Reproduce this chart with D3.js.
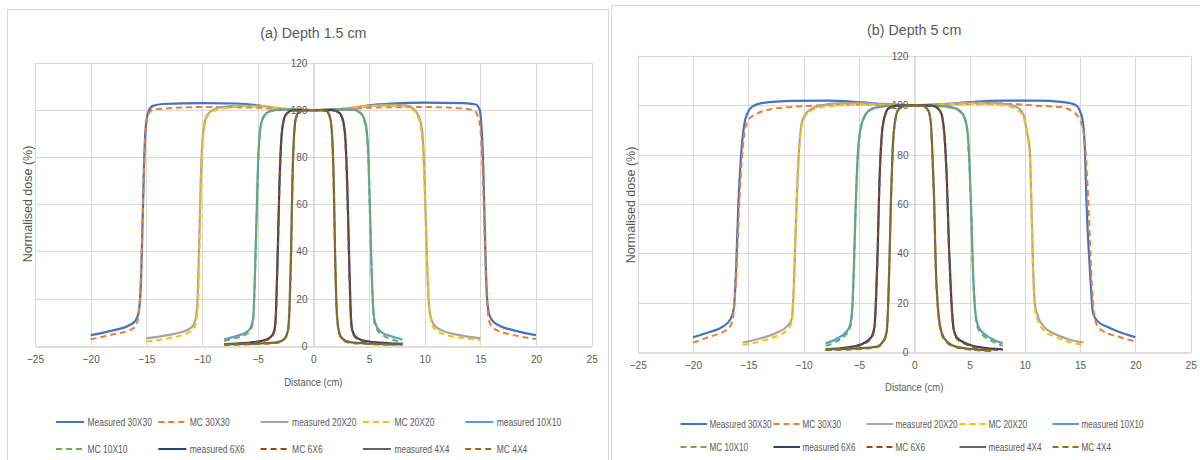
<!DOCTYPE html>
<html><head><meta charset="utf-8">
<script src="https://cdn.jsdelivr.net/npm/d3@7"></script>
<style>
html,body{margin:0;padding:0;background:#fff;}
svg{display:block;}
text{font-family:"Liberation Sans",Arial,sans-serif;fill:#595959;}
</style></head>
<body>
<svg id="chart" width="1200" height="460"></svg>
<script>
// ---------- data ----------
const xTickValues = [-25,-20,-15,-10,-5,0,5,10,15,20,25];
const yTickValues = [0,20,40,60,80,100,120];
const seriesNames = ["Measured 30X30","MC 30X30","measured 20X20","MC 20X20","measured 10X10",
                     "MC 10X10","measured 6X6","MC 6X6","measured 4X4","MC 4X4"];
const titles = ["(a) Depth 1.5 cm","(b) Depth  5 cm"];
const xAxisTitle = "Distance (cm)";
const yAxisTitle = "Normalised dose (%)";

// Panel (a) depth 1.5 cm : [distance, dose]
const a_m30 = [[-20,4.5],[-18,6.5],[-16.5,8.8],[-16,10.5],[-15.7,14],[-15.5,25],[-15.35,50],[-15.2,78],[-15.05,93],[-14.8,99.5],[-14.4,101.8],[-13.5,102.6],[-10,103],[-7,102.8],[-5,102],[-3.5,100.8],[-2,100.2],[0,100],[2,100.2],[3.5,100.8],[5,102],[7,102.8],[10,103.2],[13.5,103],[14.6,102.4],[14.95,100],[15.1,93],[15.25,78],[15.4,50],[15.55,25],[15.75,14],[16.1,10.5],[16.6,8.8],[18,6.5],[20,4.5]];
const a_mc30 = [[-20,2.7],[-18,4.8],[-16.3,7],[-15.9,9],[-15.65,15],[-15.45,35],[-15.3,60],[-15.15,82],[-15,94],[-14.8,98.5],[-14.4,100.2],[-13,100.8],[-10,101.3],[-7,101.2],[-5,101],[-3,100.3],[0,100],[3,100.3],[5,101],[7,101.2],[10,101.3],[13,100.8],[14.4,100],[14.8,97],[15,92],[15.15,80],[15.3,60],[15.45,35],[15.65,15],[15.9,9],[16.3,7],[18,4.5],[20,2.8]];
const a_m20 = [[-15,3.1],[-13,4.6],[-11.5,6.3],[-10.8,8.5],[-10.55,12],[-10.4,20],[-10.25,45],[-10.1,72],[-9.95,88],[-9.7,96],[-9.3,99.2],[-8.5,101],[-7,101.8],[-5,101.8],[-3,100.8],[-1.5,100.2],[0,100],[1.5,100.2],[3,100.8],[5,101.8],[7,102.2],[8.3,102],[9,100.5],[9.5,97],[9.8,90],[10,70],[10.15,45],[10.35,20],[10.55,12],[10.9,8.5],[11.6,6.4],[13,4.6],[15,3.1]];
const a_mc20 = [[-15,1.8],[-13,3.2],[-11.5,5],[-10.8,7],[-10.5,11],[-10.35,20],[-10.2,45],[-10.05,72],[-9.9,88],[-9.65,96],[-9.2,99],[-8,100.8],[-6,101.6],[-4,101.2],[-2,100.4],[0,100],[2,100.4],[4,101.2],[6,101.8],[7.5,101.8],[8.6,101],[9.3,98],[9.7,91],[9.95,72],[10.15,45],[10.35,20],[10.6,10],[11,6.5],[12,4.5],[13.5,3.2],[15,2.4]];
const a_m10 = [[-8,2.7],[-7,4],[-6,5.8],[-5.6,8],[-5.4,12],[-5.25,30],[-5.1,55],[-4.95,80],[-4.8,91],[-4.55,96.5],[-4.2,98.8],[-3.5,100],[-2,100.3],[0,100],[2,100.3],[3.5,100.2],[4.2,99],[4.55,96.5],[4.8,91],[4.95,80],[5.1,55],[5.25,30],[5.45,12],[5.7,8],[6.2,5.5],[7,4],[8,2.6]];
const a_mc10 = [[-8,2],[-7,3.2],[-6,5],[-5.6,7.2],[-5.4,11],[-5.25,28],[-5.1,53],[-4.95,78],[-4.8,90],[-4.55,96],[-4.2,98.6],[-3.5,99.8],[-2,100.2],[0,100],[2,100.3],[3.5,100.1],[4.2,98.8],[4.55,96],[4.8,90],[4.95,78],[5.1,53],[5.25,28],[5.45,11],[5.7,7],[6.2,4.6],[7,2.8],[8,1.4]];
const a_m6 = [[-8,0.7],[-6,1.2],[-4.5,2.2],[-3.8,3.8],[-3.5,6.5],[-3.35,15],[-3.2,40],[-3.05,68],[-2.9,86],[-2.7,95],[-2.4,98.6],[-1.8,100],[0,100],[1.8,100],[2.4,98.6],[2.7,95],[2.9,86],[3.05,68],[3.2,40],[3.35,15],[3.5,6.5],[3.8,3.8],[4.5,2.2],[6,1.3],[8,0.8]];
const a_mc6 = [[-8,0.5],[-6,1],[-4.5,2],[-3.8,3.5],[-3.5,6],[-3.35,14],[-3.2,38],[-3.05,66],[-2.9,85],[-2.7,94.5],[-2.4,98.4],[-1.8,99.8],[0,100],[1.8,99.8],[2.4,98.3],[2.7,94],[2.9,84],[3.05,64],[3.2,37],[3.35,13],[3.5,6],[3.8,3.4],[4.5,1.8],[6,0.9],[8,0.5]];
const a_m4 = [[-8,0.6],[-5,0.9],[-3.2,1.5],[-2.6,3],[-2.3,6],[-2.15,15],[-2,40],[-1.88,70],[-1.75,88],[-1.55,97],[-1.2,99.5],[-0.7,100],[0,100],[0.7,100],[1.2,99.5],[1.5,97],[1.7,88],[1.83,70],[1.95,40],[2.1,15],[2.3,6],[2.6,3],[3.3,1.5],[5,0.9],[8,0.6]];
const a_mc4 = [[-8,0.4],[-5,0.7],[-3.2,1.3],[-2.6,2.8],[-2.3,5.5],[-2.15,14],[-2,38],[-1.88,68],[-1.75,87],[-1.55,96.5],[-1.2,99.4],[-0.7,100],[0,100],[0.7,100],[1.2,99.3],[1.5,96.5],[1.7,87],[1.83,68],[1.95,38],[2.1,14],[2.3,5.5],[2.6,2.6],[3.3,1.2],[5,0.7],[7,0.4]];

// Panel (b) depth 5 cm : [distance, dose]
const b_m30 = [[-20,6.1],[-18.5,8.2],[-17.3,10.4],[-16.6,13.5],[-16.3,18],[-16.1,34],[-15.9,60],[-15.65,80],[-15.35,92.5],[-15.05,97],[-14.6,99.5],[-13.8,100.8],[-11,101.7],[-8,101.8],[-5,101.2],[-3,100.5],[0,100],[3,100.5],[5,101.2],[8,101.8],[11,101.8],[13.5,101.2],[14.6,100],[15,97.5],[15.27,92.6],[15.45,80],[15.57,61.6],[15.87,34.6],[16.17,15.8],[16.6,12.5],[17.4,10.4],[18.5,8.3],[20,6.1]];
const b_mc30 = [[-20,3.9],[-18.5,6.3],[-17,9],[-16.5,11.7],[-16.25,20],[-16,40],[-15.8,62],[-15.6,77],[-15.35,89],[-15,94],[-14.2,96.6],[-13,98.3],[-11,99.3],[-8,100],[-5,100.3],[-2,100.1],[0,100],[2,100.1],[5,100.5],[8,100.6],[11,99.8],[13.2,99.2],[14.3,97.5],[15,94],[15.35,88],[15.55,77],[15.75,60],[15.95,38],[16.2,18],[16.5,11.2],[17,8.8],[18.5,6.3],[20,4.3]];
const b_m20 = [[-15.5,3.9],[-14,5.5],[-12.5,7.8],[-11.5,10.5],[-11.1,13],[-10.9,25],[-10.75,45],[-10.55,70],[-10.35,86],[-10.1,94],[-9.6,97.5],[-8.5,99.8],[-7,100.7],[-5,100.8],[-3,100.3],[0,100],[3,100.4],[5,100.9],[7,100.9],[8.8,100],[9.5,98.5],[9.9,96],[10.2,89],[10.45,81.8],[10.6,60],[10.75,34.6],[10.9,20],[11.2,14.4],[11.7,10.5],[12.6,7.7],[14,5.2],[15.3,4]];
const b_mc20 = [[-15.5,3],[-14,4.3],[-12.5,6.5],[-11.5,9],[-11.1,12],[-10.9,24],[-10.75,44],[-10.55,69],[-10.35,85],[-10.1,93],[-9.6,96.8],[-8.5,99],[-7,99.8],[-5,100.3],[-3,100.2],[0,100],[3,100.3],[5,100.6],[7,100.3],[8.8,99.2],[9.5,97.5],[9.9,95],[10.2,88],[10.45,80],[10.6,58],[10.75,33],[10.9,18],[11.2,12.5],[11.7,9],[12.6,6.5],[14,4.2],[15.3,3]];
const b_m10 = [[-8,3.6],[-7,5.5],[-6.2,8],[-5.8,11],[-5.6,18],[-5.45,35],[-5.3,58],[-5.15,76],[-4.95,88],[-4.6,94.5],[-4.1,97.8],[-3.5,99],[-2,99.8],[0,100],[2,99.8],[3.5,99],[4.1,97.8],[4.6,94.5],[4.85,88],[5,76],[5.15,58],[5.3,35],[5.5,18],[5.75,11],[6.2,8],[7,5.5],[8,3.6]];
const b_mc10 = [[-8,2.6],[-7,4.5],[-6.2,7],[-5.8,10],[-5.6,17],[-5.45,34],[-5.3,57],[-5.15,75],[-4.95,87],[-4.6,94],[-4.1,97.5],[-3.5,98.8],[-2,99.7],[0,100],[2,99.7],[3.5,98.8],[4.1,97.5],[4.6,94],[4.85,87],[5,75],[5.15,57],[5.3,34],[5.5,17],[5.75,10],[6.2,7],[7,4.6],[8,2.6]];
const b_m6 = [[-8,1.2],[-6,2],[-4.6,3.6],[-3.9,6],[-3.6,10],[-3.45,22],[-3.3,42],[-3.15,68],[-2.95,87],[-2.7,95],[-2.3,98.8],[-1.6,99.8],[0,100],[1.6,99.8],[2.2,98.5],[2.5,96],[2.75,87],[2.95,70],[3.15,42],[3.35,22],[3.55,10],[3.85,6],[4.7,3.6],[6,2],[8,1.2]];
const b_mc6 = [[-8,0.9],[-6,1.7],[-4.6,3.3],[-3.9,5.6],[-3.6,9.5],[-3.45,21],[-3.3,41],[-3.15,67],[-2.95,86],[-2.7,94.5],[-2.3,98.5],[-1.6,99.7],[0,100],[1.6,99.7],[2.2,98.3],[2.5,95.5],[2.75,86],[2.95,69],[3.15,41],[3.35,21],[3.55,9.5],[3.85,5.6],[4.7,3.2],[6,1.6],[8,0.9]];
const b_m4 = [[-8,1.2],[-5,1.6],[-3.4,2.3],[-2.8,4.5],[-2.5,8],[-2.35,20],[-2.25,35],[-2.1,62],[-1.95,82],[-1.75,93],[-1.4,98.5],[-0.8,99.8],[0,100],[0.8,99.8],[1.3,97.5],[1.5,93],[1.65,80],[1.8,62],[1.95,35],[2.15,18],[2.5,7.7],[3,4.2],[3.8,2.3],[5.5,1.2],[7,0.8]];
const b_mc4 = [[-8,0.9],[-5,1.3],[-3.4,2],[-2.8,4.2],[-2.5,7.5],[-2.35,19],[-2.25,34],[-2.1,61],[-1.95,81],[-1.75,92.5],[-1.4,98.3],[-0.8,99.7],[0,100],[0.8,99.7],[1.3,97.3],[1.5,92.5],[1.65,79],[1.8,61],[1.95,34],[2.15,17],[2.5,7],[3,3.8],[3.8,2],[5.5,0.9],[7,0.5]];

const panelA = [a_m30,a_mc30,a_m20,a_mc20,a_m10,a_mc10,a_m6,a_mc6,a_m4,a_mc4];
const panelB = [b_m30,b_mc30,b_m20,b_mc20,b_m10,b_mc10,b_m6,b_mc6,b_m4,b_mc4];

// ---------- styles ----------
const colors = ["#4472C4","#ED7D31","#A5A5A5","#FFC000","#5B9BD5","#70AD47","#264478","#9E480E","#636363","#997300"];
const dashed = [false,true,false,true,false,true,false,true,false,true];

const panels = [
  {data:panelA,title:titles[0],box:[7,9,601,470],plot:{l:35,r:591.7,t:63,b:345.7},titleY:38,
   xTitleY:386,yTitleX:28,yTitleY:204,leg:{x0:56,dx:102.3,y:[422,449],len:28,gap:3.5,sq:0.83}},
  {data:panelB,title:titles[1],box:[611,5,600,470],plot:{l:637.7,r:1190.7,t:55.7,b:352.3},titleY:35,
   xTitleY:391,yTitleX:631,yTitleY:205,leg:{x0:680.5,dx:93,y:[424,447],len:26.5,gap:2.5,sq:0.8}}
];

const svg = d3.select("#chart");

function narrowText(g, x, y, str, size, squeeze, anchor){
  return g.append("text")
    .attr("transform",`translate(${x},${y}) scale(${squeeze},1)`)
    .attr("text-anchor",anchor||"start").attr("font-size",size).text(str);
}

panels.forEach(p=>{
  const g = svg.append("g");
  g.append("rect").attr("x",p.box[0]+0.5).attr("y",p.box[1]+0.5).attr("width",p.box[2]).attr("height",p.box[3])
   .attr("fill","#fff").attr("stroke","#d9d9d9").attr("stroke-width",1);

  const x = d3.scaleLinear().domain([-25,25]).range([p.plot.l,p.plot.r]);
  const y = d3.scaleLinear().domain([0,120]).range([p.plot.b,p.plot.t]);

  // gridlines
  g.append("g").selectAll("line").data(yTickValues.filter(v=>v>0)).join("line")
    .attr("x1",p.plot.l).attr("x2",p.plot.r).attr("y1",d=>Math.round(y(d))+0.5).attr("y2",d=>Math.round(y(d))+0.5)
    .attr("stroke","#d9d9d9").attr("stroke-width",1);
  g.append("g").selectAll("line").data(xTickValues.filter(v=>v!==0)).join("line")
    .attr("y1",p.plot.t).attr("y2",p.plot.b).attr("x1",d=>Math.round(x(d))+0.5).attr("x2",d=>Math.round(x(d))+0.5)
    .attr("stroke","#d9d9d9").attr("stroke-width",1);

  // x axis at y=0
  const xAxis = d3.axisBottom(x).tickValues(xTickValues).tickSize(0).tickPadding(9);
  const xa = g.append("g").attr("transform",`translate(0,${Math.round(y(0))+0.5})`).call(xAxis);
  xa.select(".domain").attr("stroke","#bfbfbf");
  xa.selectAll("text").attr("font-size",11).attr("fill","#595959")
    .style("font-family",'"Liberation Sans",Arial,sans-serif')
    .attr("transform","scale(0.92,1)");

  // y axis at x=0
  const yAxis = d3.axisLeft(y).tickValues(yTickValues).tickSize(0).tickPadding(6);
  const ya = g.append("g").attr("transform",`translate(${Math.round(x(0))+0.5},0)`).call(yAxis);
  ya.select(".domain").attr("stroke","#bfbfbf");
  ya.selectAll("text").attr("font-size",11).attr("fill","#595959")
    .style("font-family",'"Liberation Sans",Arial,sans-serif')
    .attr("transform","translate(-6,0) scale(0.92,1)").attr("x",0);

  // series
  const line = d3.line().x(d=>x(d[0])).y(d=>y(d[1])).curve(d3.curveMonotoneX);
  p.data.forEach((s,i)=>{
    g.append("path").datum(s).attr("d",line).attr("fill","none")
     .attr("stroke",colors[i]).attr("stroke-width",dashed[i]?2:2.2)
     .attr("stroke-dasharray",dashed[i]?"6,4":null)
     .attr("stroke-linejoin","round");
  });

  // titles
  const cx = x(0);
  narrowText(g, cx, p.titleY, p.title, 15.5, 0.92, "middle");
  narrowText(g, cx, p.xTitleY, xAxisTitle, 11, 0.86, "middle");
  g.append("text").attr("transform",`translate(${p.yTitleX+4},${p.yTitleY}) rotate(-90)`)
   .attr("text-anchor","middle").attr("font-size",12.5).text(yAxisTitle);

  // legend
  seriesNames.forEach((name,i)=>{
    const col = i%5, row = Math.floor(i/5);
    const lx = p.leg.x0 + col*p.leg.dx, ly = p.leg.y[row];
    g.append("line").attr("x1",lx).attr("x2",lx+p.leg.len).attr("y1",ly).attr("y2",ly)
     .attr("stroke",colors[i]).attr("stroke-width",2).attr("stroke-dasharray",dashed[i]?"6,4":null);
    narrowText(g, lx+p.leg.len+p.leg.gap, ly+4, name, 10.2, p.leg.sq);
  });
});
</script>
</body></html>
